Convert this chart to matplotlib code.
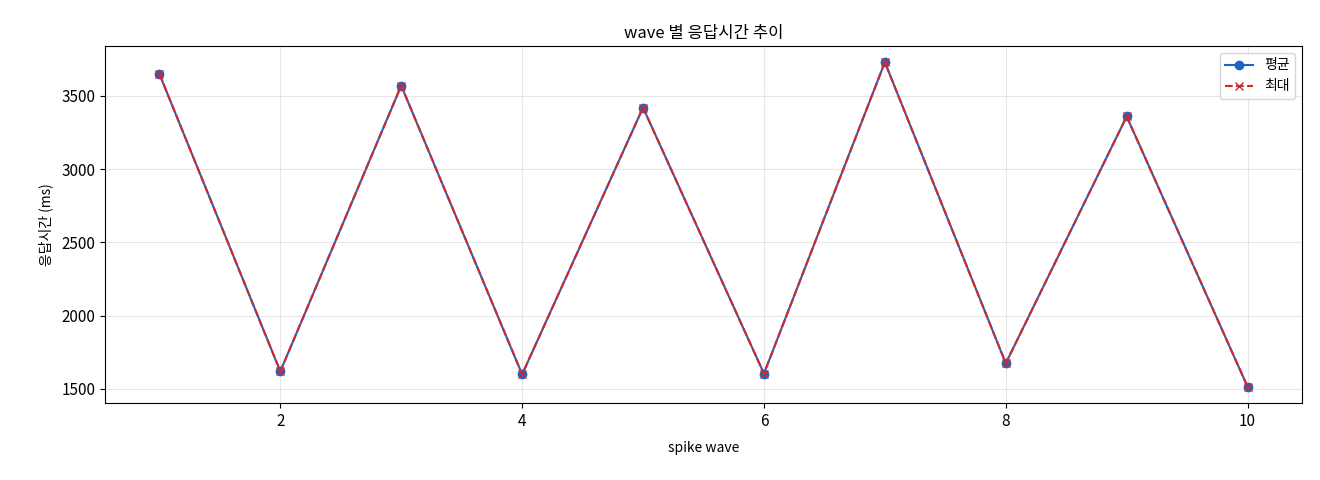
import matplotlib
matplotlib.use("Agg")
import matplotlib.pyplot as plt

plt.rcParams['font.family'] = ['Noto Sans CJK KR', 'DejaVu Sans']

waves = [1, 2, 3, 4, 5, 6, 7, 8, 9, 10]
avg_ms = [3650, 1620, 3570, 1600, 3420, 1605, 3730, 1675, 3360, 1515]
max_ms = [3650, 1620, 3570, 1600, 3420, 1605, 3730, 1675, 3360, 1515]

fig = plt.figure(figsize=(13.2, 4.8), dpi=100)
ax = fig.add_axes([105/1320, 1-403/480, (1302-105)/1320, (403-46)/480])
ax.plot(waves, avg_ms, marker='o', color='#1f65c0', label='평균', markersize=6)
ax.plot(waves, max_ms, marker='x', linestyle='--', color='#d62728', label='최대', markersize=6)
ax.set_title('wave 별 응답시간 추이', fontsize=12)
ax.set_xlabel('spike wave', fontsize=10, labelpad=8)
ax.set_ylabel('응답시간 (ms)', fontsize=10, labelpad=6)
ax.tick_params(labelsize=11)
ax.grid(True, alpha=0.3)
ax.legend(loc='upper right', fontsize=10)
fig.savefig('out.png', dpi=100)
